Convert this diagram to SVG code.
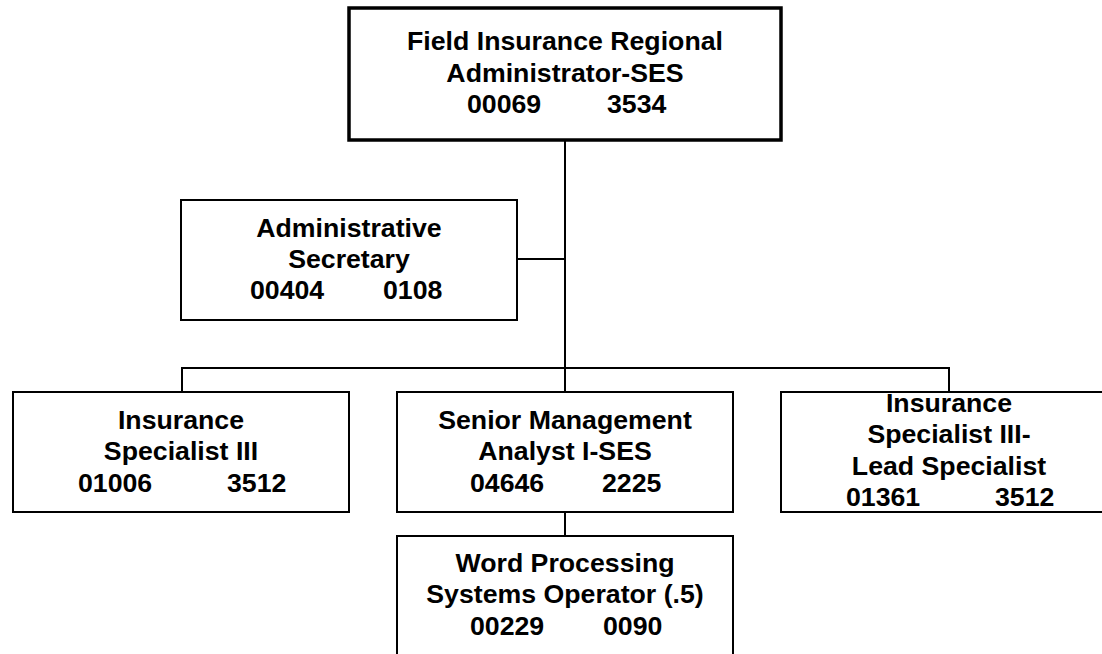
<svg xmlns="http://www.w3.org/2000/svg" width="1102" height="654" viewBox="0 0 1102 654">
  <style>
    .box { fill: #ffffff; stroke: #000000; stroke-width: 2; }
    .head { stroke-width: 3.5; }
    .link { fill: none; stroke: #000000; stroke-width: 2; }
    text { font-family: "Liberation Sans", Arial, sans-serif; font-weight: bold; font-size: 26.7px; fill: #000000; }
    .c { text-anchor: middle; }
  </style>
  <rect width="1102" height="654" fill="#ffffff"/>

  <!-- reporting lines -->
  <g id="connectors">
    <path class="link" d="M565,140 V392"/>
    <path class="link" d="M517,259 H565"/>
    <path class="link" d="M182,392 V368 H949 V392"/>
    <path class="link" d="M565,512 V536"/>
  </g>

  <g id="regional-administrator">
    <rect class="box head" x="349" y="8" width="432" height="132"/>
    <text class="c" x="565" y="50">Field Insurance Regional</text>
    <text class="c" x="565" y="82">Administrator-SES</text>
    <text x="467" y="113">00069</text>
    <text x="607" y="113">3534</text>
  </g>

  <g id="administrative-secretary">
    <rect class="box" x="181" y="200" width="336" height="120"/>
    <text class="c" x="349" y="237">Administrative</text>
    <text class="c" x="349" y="268">Secretary</text>
    <text x="250" y="299">00404</text>
    <text x="383" y="299">0108</text>
  </g>

  <g id="insurance-specialist">
    <rect class="box" x="13" y="392" width="336" height="120"/>
    <text class="c" x="181" y="429">Insurance</text>
    <text class="c" x="181" y="460">Specialist III</text>
    <text x="78" y="492">01006</text>
    <text x="227" y="492">3512</text>
  </g>

  <g id="senior-management-analyst">
    <rect class="box" x="397" y="392" width="336" height="120"/>
    <text class="c" x="565" y="429">Senior Management</text>
    <text class="c" x="565" y="460">Analyst I-SES</text>
    <text x="470" y="492">04646</text>
    <text x="602" y="492">2225</text>
  </g>

  <!-- four lines of text, packed edge to edge inside the box -->
  <g id="lead-specialist">
    <rect class="box" x="781" y="392" width="336" height="120"/>
    <text class="c" x="949" y="411.5">Insurance</text>
    <text class="c" x="949" y="443">Specialist III-</text>
    <text class="c" x="949" y="474.5">Lead Specialist</text>
    <text x="846" y="506">01361</text>
    <text x="995" y="506">3512</text>
  </g>

  <g id="word-processing-operator">
    <rect class="box" x="397" y="536" width="336" height="130"/>
    <text class="c" x="565" y="572">Word Processing</text>
    <text class="c" x="565" y="603">Systems Operator (.5)</text>
    <text x="470" y="635">00229</text>
    <text x="603" y="635">0090</text>
  </g>
</svg>
